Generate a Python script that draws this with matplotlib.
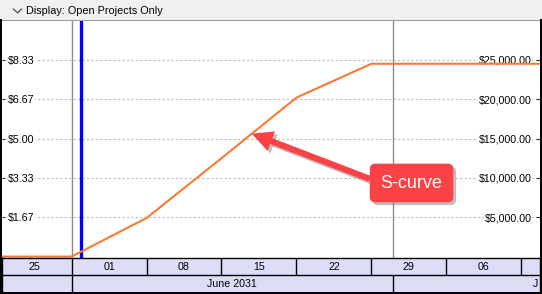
import matplotlib
matplotlib.use("Agg")
from datetime import datetime, timedelta
import numpy as np
import matplotlib.pyplot as plt
import matplotlib.dates as mdates
import matplotlib.patheffects as pe
from matplotlib.lines import Line2D
from matplotlib.patches import Rectangle

plt.rcParams['font.family'] = ['Liberation Sans', 'DejaVu Sans']

# datos de la curva S (costo acumulado)
curve_dates = [datetime(2031, 5, 18), datetime(2031, 6, 1), datetime(2031, 6, 8),
               datetime(2031, 6, 15), datetime(2031, 6, 22), datetime(2031, 6, 29),
               datetime(2031, 7, 6), datetime(2031, 7, 13), datetime(2031, 7, 20)]
curve_values = [0, 0, 4900, 12500, 20200, 24500, 24500, 24500, 24500]

right_ticks = [5000, 10000, 15000, 20000, 25000]
right_labels = ['$5,000.00', '$10,000.00', '$15,000.00', '$20,000.00', '$25,000.00']
left_ticks = [v / 3000 for v in right_ticks]
left_labels = ['$1.67', '$3.33', '$5.00', '$6.67', '$8.33']

week_starts = [datetime(2031, 5, 25), datetime(2031, 6, 1), datetime(2031, 6, 8),
               datetime(2031, 6, 15), datetime(2031, 6, 22), datetime(2031, 6, 29),
               datetime(2031, 7, 6), datetime(2031, 7, 13)]
week_labels = ['25', '01', '08', '15', '22', '29', '06']
month_starts = [datetime(2031, 6, 1), datetime(2031, 7, 1), datetime(2031, 8, 1)]
month_labels = ['June 2031', 'J']

status_date = datetime(2031, 6, 1, 22)
x_start = datetime(2031, 5, 25, 12)
x_end = datetime(2031, 7, 14, 18)

ORANGE = '#FA7A35'
RED = '#FB4347'
LAVENDER = '#DDDDF8'

W, H = 542, 294
fig = plt.figure(figsize=(W / 100, H / 100), dpi=100)


def fx(px):
    return px / W


def fy(py):
    return 1 - py / H


# barra superior
fig.patches.append(Rectangle((0, fy(20)), 1, 1 - fy(20), transform=fig.transFigure,
                             fc='#F0F0F0', ec='none'))
fig.lines.append(Line2D([0, 1], [fy(20), fy(20)], transform=fig.transFigure,
                        color='#A0A0A0', lw=0.8))
fig.lines.append(Line2D([fx(13.5), fx(17.5), fx(21.5)], [fy(9), fy(13), fy(9)],
                        transform=fig.transFigure, color='#404040', lw=0.8))
fig.text(fx(26), fy(11), 'Display: Open Projects Only', ha='left', va='center',
         fontsize=7.8, color='black')

# grafico principal
ax = fig.add_axes([fx(2), fy(258), fx(540) - fx(2), fy(20.5) - fy(258)])
ax.set_xlim(x_start, x_end)
ax.set_ylim(-0.06, 10)
ax2 = ax.twinx()
ax2.set_ylim(-0.06 * 3000, 30000)
for a in (ax, ax2):
    for s in a.spines.values():
        s.set_visible(False)
    a.set_xticks([])

ax.grid(axis='y', color='#BDBDBD', linestyle=(0, (2, 2)), lw=0.8)
ax.set_yticks(left_ticks, left_labels)
ax.tick_params(axis='y', direction='in', length=2, pad=-4.5, labelsize=7.7, color='#333333')
for t in ax.get_yticklabels():
    t.set_horizontalalignment('left')
    t.set_bbox(dict(fc='white', ec='none', pad=0.5))

ax2.set_yticks(right_ticks, right_labels)
ax2.tick_params(axis='y', direction='in', length=3, pad=-6, labelsize=7.7, color='#333333')
for t in ax2.get_yticklabels():
    t.set_horizontalalignment('right')
    t.set_bbox(dict(fc='white', ec='none', pad=0.5))

for d in month_starts:
    ax.axvline(d, color='#8C8C8C', lw=1)
ax.axvline(status_date, color='#0000FF', lw=2.4)

ax2.plot(curve_dates, curve_values, color=ORANGE, lw=1.5)

# anotacion
cd = mdates.date2num(curve_dates)
tip_x = mdates.date2num(datetime(2031, 6, 17, 20))
tip_y = np.interp(tip_x, cd, curve_values)
shadow = [pe.SimplePatchShadow(offset=(2, -2), shadow_rgbFace='gray', alpha=0.5), pe.Normal()]
ann = ax2.annotate('S-curve', xy=(tip_x, tip_y), xytext=(datetime(2031, 7, 2, 18), 9350),
                   ha='center', va='center', fontsize=13, color='white',
                   bbox=dict(boxstyle='round,pad=0.6,rounding_size=0.3', fc=RED, ec='none'),
                   arrowprops=dict(arrowstyle='simple,head_length=1.0,head_width=1.0,tail_width=0.3',
                                   mutation_scale=15, fc=RED, ec='none', shrinkA=0, shrinkB=0,
                                   relpos=(0, 0.5)))
ann.get_bbox_patch().set_path_effects(shadow)
ann.arrow_patch.set_path_effects(shadow)

# escala de tiempo
tl = fig.add_axes([fx(2), fy(292.5), fx(540) - fx(2), fy(258) - fy(292.5)])
tl.set_facecolor(LAVENDER)
tl.set_xlim(x_start, x_end)
tl.set_ylim(0, 2)
tl.set_xticks([])
tl.set_yticks([])
for s in tl.spines.values():
    s.set_color('black')
    s.set_linewidth(1)
tl.axhline(1, color='black', lw=1)
tl.vlines(week_starts, 1, 2, color='black', lw=1)
tl.vlines(month_starts, 0, 1, color='black', lw=1)
for d, lab in zip(week_starts, week_labels):
    tl.text(d + timedelta(days=3.5), 1.5, lab, ha='center', va='center',
            fontsize=7.7, clip_on=True)
tl.text(month_starts[0] + (month_starts[1] - month_starts[0]) / 2, 0.5, month_labels[0],
        ha='center', va='center', fontsize=7.7, clip_on=True)
tl.text(x_end - timedelta(hours=4), 0.5, month_labels[1], ha='right', va='center',
        fontsize=7.7, clip_on=True)

# marco de la ventana
for xs, ys, lw in [([fx(1), fx(1)], [0, fy(20)], 2),
                   ([fx(541), fx(541)], [0, fy(20)], 2),
                   ([0, 1], [fy(293), fy(293)], 2)]:
    fig.lines.append(Line2D(xs, ys, transform=fig.transFigure, color='black', lw=lw * 0.72))

fig.savefig('out.png', dpi=100)
